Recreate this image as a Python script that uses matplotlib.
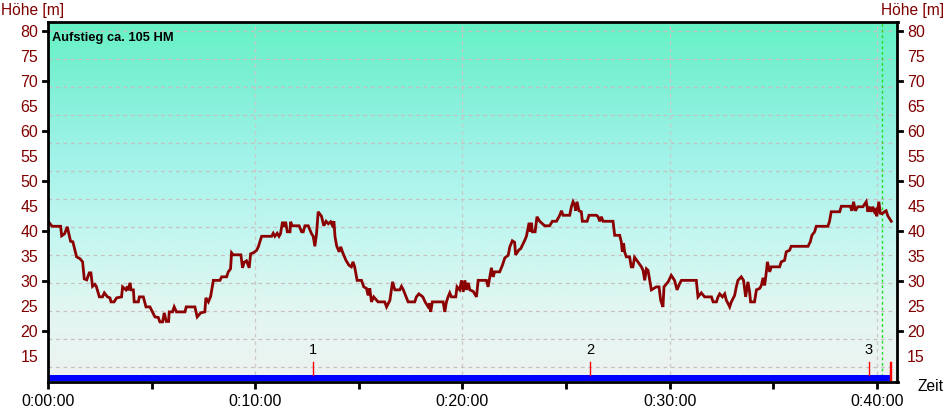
"""Elevation profile (Höhenprofil) over time."""
import matplotlib
matplotlib.use("Agg")
import matplotlib.pyplot as plt
import numpy as np
from matplotlib.colors import LinearSegmentedColormap
from matplotlib.ticker import FixedLocator, FuncFormatter

plt.rcParams["font.family"] = ["Liberation Sans", "DejaVu Sans"]

# elapsed time in minutes / elevation in m
time_min = [0.0, 0.2, 0.61, 0.66, 0.8, 0.93, 1.0, 1.09, 1.2, 1.38, 1.55, 1.67, 1.75, 1.87, 1.99,
            2.07, 2.15, 2.26, 2.33, 2.48, 2.63, 2.72, 2.87, 2.99, 3.04, 3.19, 3.31, 3.55, 3.6,
            3.76, 3.83, 3.86, 3.96, 4.01, 4.12, 4.16, 4.36, 4.41, 4.6, 4.73, 4.92, 5.16, 5.32,
            5.4, 5.53, 5.61, 5.71, 5.82, 5.85, 6.01, 6.09, 6.2, 6.61, 6.67, 7.09, 7.2, 7.37,
            7.57, 7.62, 7.74, 7.85, 7.98, 8.3, 8.38, 8.62, 8.7, 8.81, 8.86, 8.94, 9.31, 9.39,
            9.47, 9.58, 9.71, 9.78, 9.91, 10.07, 10.15, 10.31, 10.79, 10.87, 10.95, 11.06,
            11.15, 11.22, 11.32, 11.4, 11.47, 11.55, 11.68, 11.71, 11.79, 12.12, 12.24, 12.32,
            12.4, 12.56, 12.72, 12.8, 12.88, 12.96, 13.04, 13.2, 13.31, 13.42, 13.53, 13.64,
            13.72, 13.8, 13.85, 13.93, 14.05, 14.13, 14.21, 14.38, 14.53, 14.64, 14.72, 14.8,
            14.92, 15.13, 15.24, 15.37, 15.45, 15.53, 15.61, 15.72, 15.93, 16.25, 16.34, 16.5,
            16.63, 16.74, 16.98, 17.06, 17.14, 17.38, 17.7, 17.78, 17.9, 18.09, 18.2, 18.35,
            18.43, 18.47, 18.55, 19.07, 19.15, 19.23, 19.31, 19.39, 19.47, 19.68, 19.74, 19.87,
            19.96, 20.04, 20.12, 20.2, 20.28, 20.36, 20.52, 20.68, 20.76, 21.16, 21.24, 21.4,
            21.48, 21.56, 21.8, 21.93, 22.05, 22.21, 22.29, 22.41, 22.52, 22.57, 22.73, 22.81,
            23.01, 23.09, 23.22, 23.28, 23.33, 23.38, 23.51, 23.6, 23.73, 23.97, 24.21, 24.34,
            24.54, 24.7, 24.78, 24.86, 25.18, 25.26, 25.34, 25.42, 25.47, 25.53, 25.63, 25.74,
            25.79, 26.02, 26.11, 26.47, 26.55, 26.63, 26.71, 26.79, 27.27, 27.35, 27.59, 27.67,
            27.72, 27.78, 27.83, 27.91, 28.07, 28.15, 28.23, 28.31, 28.47, 28.64, 28.72, 28.8,
            28.88, 28.96, 29.04, 29.12, 29.36, 29.49, 29.57, 29.68, 29.73, 29.93, 30.08, 30.24,
            30.36, 30.49, 30.57, 31.29, 31.37, 31.53, 31.69, 32.02, 32.1, 32.26, 32.34, 32.42,
            32.55, 32.66, 32.74, 32.82, 32.9, 32.98, 33.14, 33.22, 33.3, 33.46, 33.57, 33.67,
            33.78, 33.86, 33.91, 34.1, 34.19, 34.35, 34.43, 34.51, 34.59, 34.67, 34.72, 34.83,
            34.91, 35.31, 35.39, 35.55, 35.63, 35.79, 35.87, 36.68, 36.79, 36.87, 37.0, 37.08,
            37.64, 37.72, 37.8, 38.21, 38.29, 38.72, 38.8, 38.88, 38.97, 39.08, 39.33, 39.41,
            39.49, 39.57, 39.65, 39.73, 39.81, 39.89, 39.94, 40.0, 40.1, 40.17, 40.26, 40.37,
            40.45, 40.53, 40.7]
elev_m = [42.0, 41.0, 41.0, 39.1, 39.5, 40.9, 39.6, 38.0, 37.9, 34.9, 34.5, 33.9, 30.5, 30.3, 31.7,
          31.7, 29.0, 29.4, 29.0, 26.9, 26.9, 27.7, 26.9, 26.7, 25.9, 25.9, 26.7, 26.9, 28.9,
          28.3, 29.0, 28.2, 29.7, 28.3, 28.3, 25.9, 25.9, 26.9, 26.9, 24.9, 24.9, 22.9, 22.8,
          21.9, 21.9, 23.7, 22.0, 22.0, 23.9, 23.9, 24.9, 23.9, 23.9, 24.9, 24.9, 22.9, 23.7,
          23.9, 26.7, 25.9, 27.0, 30.2, 30.2, 30.9, 30.9, 31.9, 32.5, 35.7, 35.3, 35.3, 32.7,
          33.8, 34.1, 32.7, 35.5, 35.7, 36.2, 36.9, 39.0, 39.0, 39.6, 39.0, 39.6, 39.0, 39.5,
          41.9, 40.9, 41.9, 39.9, 39.9, 41.9, 41.1, 41.1, 39.9, 39.9, 41.1, 41.1, 39.5, 39.0,
          37.0, 39.5, 43.9, 43.0, 41.1, 42.0, 41.5, 41.9, 41.2, 42.0, 39.0, 37.1, 35.9, 36.9,
          35.9, 34.2, 33.2, 32.9, 33.9, 32.9, 30.2, 30.2, 28.9, 28.6, 27.2, 28.6, 25.9, 26.9,
          25.9, 25.9, 24.9, 26.2, 29.9, 28.3, 28.3, 29.0, 28.4, 25.9, 25.9, 26.9, 27.5, 26.9,
          25.9, 24.9, 25.6, 23.9, 25.9, 25.9, 23.9, 25.9, 26.9, 27.7, 26.9, 26.9, 28.9, 28.3,
          30.2, 27.9, 30.2, 28.3, 29.7, 28.3, 28.0, 26.9, 30.2, 30.2, 28.9, 32.7, 30.9, 31.9,
          31.9, 33.2, 34.7, 35.2, 36.9, 38.1, 37.8, 35.3, 36.3, 36.5, 38.2, 39.0, 41.7, 39.9,
          41.7, 39.9, 39.9, 42.9, 42.0, 41.1, 41.1, 42.0, 42.0, 43.2, 44.1, 43.2, 43.2, 44.9,
          45.9, 45.2, 44.1, 45.9, 44.1, 43.9, 42.0, 42.0, 43.2, 43.2, 42.9, 42.0, 42.9, 42.0,
          42.0, 39.2, 39.2, 37.9, 35.9, 37.6, 35.9, 34.9, 34.9, 32.9, 32.9, 34.8, 33.9, 32.9,
          32.2, 30.2, 32.5, 32.2, 30.2, 28.3, 28.9, 28.9, 26.2, 24.9, 28.9, 29.9, 31.2, 30.2,
          28.3, 29.6, 30.2, 30.2, 26.9, 27.7, 26.9, 26.9, 25.9, 25.9, 26.9, 27.5, 26.9, 27.5,
          26.2, 25.6, 24.9, 25.9, 27.2, 28.9, 30.2, 30.9, 30.2, 26.9, 29.9, 27.9, 25.9, 25.9,
          28.3, 28.6, 29.2, 30.7, 29.2, 31.9, 33.9, 31.9, 32.9, 32.9, 33.9, 34.2, 35.9, 36.2,
          37.0, 37.0, 37.9, 39.2, 39.9, 41.0, 41.0, 42.0, 43.9, 43.9, 45.0, 45.0, 44.1, 45.9,
          44.1, 44.9, 44.9, 45.4, 45.9, 43.9, 44.9, 43.9, 44.9, 43.9, 44.2, 43.0, 45.9, 43.6,
          43.5, 43.9, 44.1, 43.1, 42.0]

marker_time = [12.78, 26.15, 39.62]
marker_label = ["1", "2", "3"]
end_marker_time = [40.63, 40.71]
green_line_time = 40.26
bar_end_time = 40.73

x_major = [0, 10, 20, 30, 40]
x_minor = [5, 15, 25, 35]
y_labels = [15, 20, 25, 30, 35, 40, 45, 50, 55, 60, 65, 70, 75, 80]
y_major = [20, 30, 40, 50, 60, 70, 80]
grid_y = [80 - 5.6 * k for k in range(13)]

DARKRED = "#800000"
LINE = "#8b0000"
YMIN, YMAX = 10, 81.8
XMAX = 41.0

fig = plt.figure(figsize=(9.45, 4.11), dpi=100)
fig.patch.set_facecolor("white")
ax = fig.add_axes([48 / 945, (411 - 381.5) / 411, (897.5 - 48) / 945, (381.5 - 22) / 411])
ax.set_xlim(0, XMAX)
ax.set_ylim(YMIN, YMAX)

# background gradient: mint at top -> cyan -> near white at bottom
cmap = LinearSegmentedColormap.from_list("bg", [
    (0.0, "#eef3f2"), (0.2, "#e2f6f1"), (0.42, "#c2f6f0"),
    (0.62, "#a2f3e9"), (0.82, "#80f0d6"), (1.0, "#66f2c4")])
grad = np.linspace(0, 1, 256).reshape(-1, 1)
ax.imshow(grad, cmap=cmap, aspect="auto", origin="lower",
          extent=[0, XMAX, YMIN, YMAX], zorder=0)

# grid
for gy in grid_y:
    ax.axhline(gy, color="#c8c0c0", lw=0.9, ls=(0, (3, 3)), zorder=1)
for gx in x_major[1:]:
    ax.axvline(gx, color="#ccc8c8", lw=0.9, ls=(0, (3, 3)), zorder=1)
ax.axvline(green_line_time, color="#22dd22", lw=1.0, ls=(0, (2, 2)), zorder=2)

# profile
ax.plot(time_min, elev_m, color=LINE, lw=2.0, zorder=4, solid_joinstyle="miter")

# blue track bar at the bottom
ax.fill_between([0, bar_end_time], YMIN, 11.3, color="#0000ff", lw=0, zorder=3)

# waypoint markers
for t, lab in zip(marker_time, marker_label):
    ax.plot([t, t], [11.3, 13.9], color="red", lw=1.0, zorder=5)
    ax.text(t, 14.9, lab, ha="center", va="bottom", fontsize=10.5, color="black", zorder=5)
for t in end_marker_time:
    ax.plot([t, t], [10.2, 13.9], color="red", lw=1.0, zorder=5)

ax.text(0.2, 78.6, "Aufstieg ca. 105 HM", fontsize=9.3, fontweight="bold",
        ha="left", va="center", color="black", zorder=6)

# axes styling
for s in ax.spines.values():
    s.set_linewidth(2.0)
    s.set_color("black")
    s.set_zorder(7)

ax.xaxis.set_major_locator(FixedLocator(x_major))
ax.xaxis.set_minor_locator(FixedLocator(x_minor))
ax.xaxis.set_major_formatter(FuncFormatter(lambda v, p: f"0:{int(v):02d}:00"))
ax.tick_params(axis="x", which="both", direction="out", length=5, width=2,
               labelsize=11.5, labelcolor="black", pad=4)

ax.yaxis.set_major_locator(FixedLocator(y_labels))
ax.set_yticklabels([str(v) for v in y_labels])
ax.tick_params(axis="y", which="major", length=0, labelsize=11.5, labelcolor=DARKRED,
               left=True, right=True, labelleft=True, labelright=True, pad=7)
# small tick dashes every 10 m on both sides
for yv in y_major:
    ax.plot([-0.22, 0], [yv, yv], color="black", lw=2, clip_on=False, zorder=8)
    ax.plot([XMAX, XMAX + 0.22], [yv, yv], color="black", lw=2, clip_on=False, zorder=8)

fig.text(1 / 945, 1 - 10 / 411, "Höhe [m]", ha="left", va="center", fontsize=11.2, color=DARKRED)
fig.text(944 / 945, 1 - 10 / 411, "Höhe [m]", ha="right", va="center", fontsize=11.2, color=DARKRED)
fig.text(944 / 945, 1 - 386 / 411, "Zeit", ha="right", va="center", fontsize=11.2, color="black")

fig.savefig("out.png", dpi=100, facecolor="white")
